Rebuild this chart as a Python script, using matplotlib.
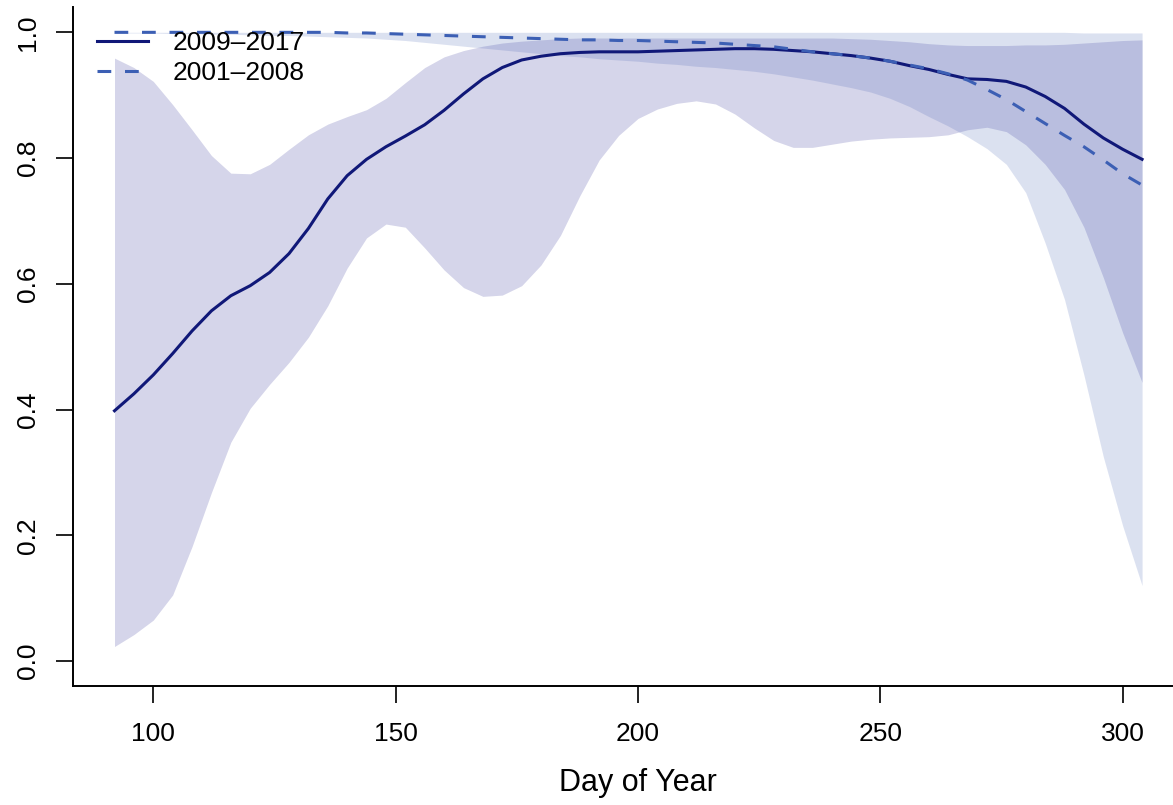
import numpy as np
import matplotlib
matplotlib.use("Agg")
import matplotlib.pyplot as plt

plt.rcParams['font.family'] = ['Liberation Sans', 'DejaVu Sans']

# day-of-year grid shared by all curves
day = [92, 96, 100, 104, 108, 112, 116, 120, 124, 128, 132, 136, 140, 144,
       148, 152, 156, 160, 164, 168, 172, 176, 180, 184, 188, 192, 196, 200,
       204, 208, 212, 216, 220, 224, 228, 232, 236, 240, 244, 248, 252, 256,
       260, 264, 268, 272, 276, 280, 284, 288, 292, 296, 300, 304]

# 2009-2017 fit and interval
fit_09 = [0.398, 0.425, 0.455, 0.489, 0.525, 0.557, 0.581, 0.597, 0.618, 0.648,
          0.688, 0.735, 0.772, 0.798, 0.818, 0.835, 0.853, 0.876, 0.902, 0.926,
          0.944, 0.956, 0.962, 0.966, 0.968, 0.969, 0.969, 0.969, 0.970, 0.971,
          0.972, 0.973, 0.974, 0.974, 0.973, 0.971, 0.969, 0.966, 0.963, 0.959,
          0.954, 0.947, 0.941, 0.933, 0.926, 0.925, 0.922, 0.913, 0.898, 0.879,
          0.854, 0.832, 0.814, 0.798]
hi_09 = [0.959, 0.944, 0.922, 0.885, 0.845, 0.804, 0.776, 0.775, 0.790, 0.814,
         0.837, 0.854, 0.866, 0.877, 0.895, 0.920, 0.944, 0.961, 0.971, 0.978,
         0.983, 0.986, 0.988, 0.990, 0.991, 0.991, 0.991, 0.991, 0.991, 0.991,
         0.991, 0.991, 0.991, 0.991, 0.991, 0.991, 0.991, 0.991, 0.990, 0.989,
         0.987, 0.985, 0.982, 0.980, 0.979, 0.979, 0.979, 0.980, 0.980, 0.981,
         0.983, 0.985, 0.987, 0.988]
lo_09 = [0.023, 0.042, 0.065, 0.105, 0.182, 0.268, 0.348, 0.402, 0.440, 0.475,
         0.515, 0.565, 0.625, 0.673, 0.695, 0.690, 0.657, 0.622, 0.594, 0.580,
         0.582, 0.597, 0.630, 0.677, 0.740, 0.797, 0.836, 0.863, 0.878, 0.887,
         0.891, 0.886, 0.870, 0.848, 0.828, 0.817, 0.817, 0.822, 0.827, 0.830,
         0.832, 0.833, 0.834, 0.837, 0.845, 0.849, 0.842, 0.821, 0.790, 0.750,
         0.690, 0.610, 0.522, 0.443]

# 2001-2008 fit and interval
fit_01 = [1.000, 1.000, 1.000, 1.000, 1.000, 1.000, 1.000, 1.000, 1.000, 1.000,
          1.000, 1.000, 0.999, 0.999, 0.998, 0.997, 0.996, 0.995, 0.994, 0.993,
          0.992, 0.991, 0.990, 0.989, 0.988, 0.988, 0.987, 0.987, 0.986, 0.985,
          0.984, 0.983, 0.981, 0.979, 0.977, 0.973, 0.969, 0.966, 0.963, 0.959,
          0.954, 0.948, 0.942, 0.934, 0.924, 0.909, 0.893, 0.874, 0.855, 0.836,
          0.818, 0.797, 0.775, 0.757]
hi_01 = [1.000, 1.000, 1.000, 1.000, 1.000, 1.000, 1.000, 1.000, 1.000, 1.000,
         1.000, 1.000, 1.000, 1.000, 1.000, 1.000, 1.000, 1.000, 1.000, 1.000,
         1.000, 1.000, 1.000, 1.000, 1.000, 1.000, 1.000, 1.000, 1.000, 1.000,
         1.000, 1.000, 1.000, 1.000, 1.000, 1.000, 1.000, 1.000, 1.000, 1.000,
         1.000, 1.000, 1.000, 1.000, 1.000, 1.000, 1.000, 1.000, 1.000, 1.000,
         0.999, 0.999, 0.999, 0.999]
lo_01 = [0.999, 0.999, 0.999, 0.998, 0.998, 0.997, 0.997, 0.996, 0.995, 0.995,
         0.994, 0.993, 0.992, 0.991, 0.989, 0.987, 0.984, 0.981, 0.978, 0.975,
         0.972, 0.969, 0.966, 0.963, 0.961, 0.958, 0.956, 0.954, 0.951, 0.949,
         0.946, 0.944, 0.941, 0.938, 0.934, 0.929, 0.924, 0.918, 0.912, 0.905,
         0.895, 0.882, 0.866, 0.851, 0.834, 0.815, 0.790, 0.745, 0.665, 0.575,
         0.455, 0.325, 0.215, 0.120]

labels = ['2009\u20132017', '2001\u20132008']
xticks = [100, 150, 200, 250, 300]
yticks = [0.0, 0.2, 0.4, 0.6, 0.8, 1.0]

W, H = 1173, 805
fig = plt.figure(figsize=(W / 100, H / 100), dpi=100)
ax = fig.add_axes([73.4 / W, (H - 686) / H, (W - 73.4) / W, (686 - 7) / H])

ax.fill_between(day, lo_09, hi_09, color='#000080', alpha=0.165, lw=0)
ax.fill_between(day, lo_01, hi_01, color='#3c5ab0', alpha=0.18, lw=0)
l1, = ax.plot(day, fit_09, color='#101878', lw=2.2, solid_joinstyle='round')
l2, = ax.plot(day, fit_01, color='#3c5fb4', lw=2.2, dashes=(4.5, 4.5))

ax.set_xlim(83.52, 310.38)
ax.set_ylim(-0.0398, 1.0403)
ax.set_xticks(xticks)
ax.set_yticks(yticks)
ax.set_xticklabels([str(t) for t in xticks])
ax.set_yticklabels(['%.1f' % t for t in yticks], rotation=90, va='center')

for s in ['top', 'right']:
    ax.spines[s].set_visible(False)
for s in ['left', 'bottom']:
    ax.spines[s].set_linewidth(1.4)
ax.tick_params(length=12, width=1.4, labelsize=19, color='#222222')
ax.tick_params(axis='x', pad=14)
ax.tick_params(axis='y', pad=12)

fig.text(637.5 / W, 1 - 783 / H, 'Day of Year', fontsize=22,
         ha='center', va='center')

ax.legend([l1, l2], labels, loc='upper left',
          bbox_to_anchor=((97 - 73.4) / (W - 73.4), 1 - 24 / 679),
          frameon=False, fontsize=19, handlelength=1.95, handletextpad=0.9,
          borderpad=0, borderaxespad=0, labelspacing=0.22)

fig.savefig('out.png', dpi=100)
